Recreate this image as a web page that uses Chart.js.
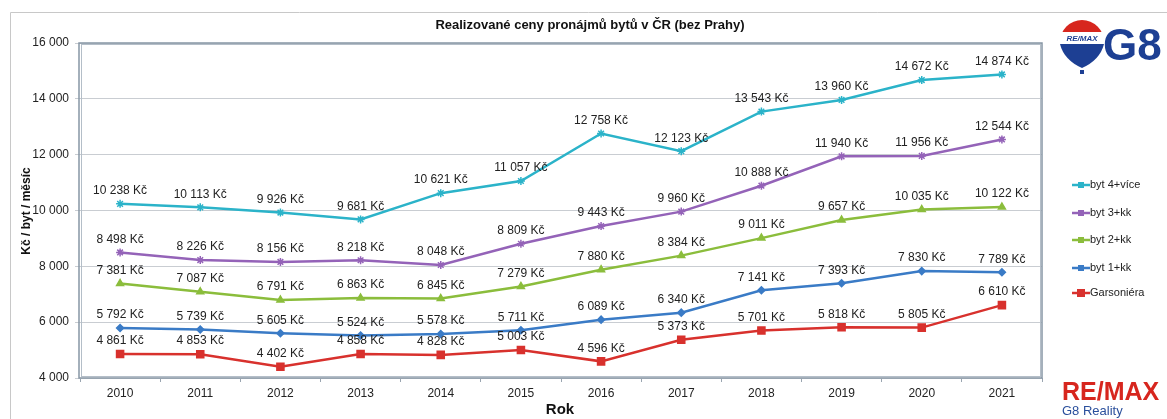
<!DOCTYPE html>
<html>
<head>
<meta charset="utf-8">
<script src="https://cdn.jsdelivr.net/npm/chart.js@4/dist/chart.umd.min.js"></script>
<style>
  html, body { margin: 0; padding: 0; background: #fff; }
  #wrap { width: 1167px; height: 419px; position: relative; }
</style>
</head>
<body>
<div id="wrap"><canvas id="rentChart" width="1167" height="419"></canvas></div>
<script>
// data
const years = ['2010', '2011', '2012', '2013', '2014', '2015', '2016', '2017', '2018', '2019', '2020', '2021'];
const byt4 = [10238, 10113, 9926, 9681, 10621, 11057, 12758, 12123, 13543, 13960, 14672, 14874];
const byt3 = [8498, 8226, 8156, 8218, 8048, 8809, 9443, 9960, 10888, 11940, 11956, 12544];
const byt2 = [7381, 7087, 6791, 6863, 6845, 7279, 7880, 8384, 9011, 9657, 10035, 10122];
const byt1 = [5792, 5739, 5605, 5524, 5578, 5711, 6089, 6340, 7141, 7393, 7830, 7789];
const garsoniera = [4861, 4853, 4402, 4858, 4828, 5003, 4596, 5373, 5701, 5818, 5805, 6610];
const seriesNames = ['byt 4+více', 'byt 3+kk', 'byt 2+kk', 'byt 1+kk', 'Garsoniéra'];

const FONT = '"Liberation Sans", Arial, sans-serif';

function thousands(v) {
    return String(Math.round(v)).replace(/\B(?=(\d{3})+(?!\d))/g, ' ');
}

function makeSet(label, values, color, style, radius) {
    return {
        label: label,
        data: values,
        borderColor: color,
        backgroundColor: color,
        borderWidth: 2.5,
        pointStyle: style,
        pointRadius: radius,
        pointBorderWidth: 1.5,
        tension: 0,
        fill: false
    };
}

// labels, frame, titles, legend and logos
const decorations = {
    id: 'decorations',
    beforeDraw(chart) {
        const ctx = chart.ctx;
        ctx.save();
        ctx.strokeStyle = '#c8c8c8';
        ctx.lineWidth = 1;
        ctx.beginPath();
        ctx.moveTo(10.5, 419);
        ctx.lineTo(10.5, 12.5);
        ctx.lineTo(1167, 12.5);
        ctx.stroke();
        ctx.restore();
    },
    afterDraw(chart) {
        const ctx = chart.ctx;
        const area = chart.chartArea;
        ctx.save();

        // plot border (double line)
        ctx.strokeStyle = '#8796a5';
        ctx.lineWidth = 1.5;
        ctx.strokeRect(area.left - 1, area.top, area.right - area.left + 1, area.bottom - area.top);
        ctx.strokeStyle = '#b4bec8';
        ctx.lineWidth = 1;
        ctx.strokeRect(area.left + 1.5, area.top + 1.5, area.right - area.left - 3, area.bottom - area.top - 3);

        // value labels
        ctx.font = '12px ' + FONT;
        ctx.fillStyle = '#222';
        ctx.textAlign = 'center';
        ctx.textBaseline = 'middle';
        chart.data.datasets.forEach((ds, i) => {
            chart.getDatasetMeta(i).data.forEach((pt, j) => {
                ctx.fillText(thousands(ds.data[j]) + ' Kč', pt.x, pt.y - 13);
            });
        });

        // title
        ctx.font = 'bold 13px ' + FONT;
        ctx.fillStyle = '#111';
        ctx.fillText('Realizované ceny pronájmů bytů v ČR (bez Prahy)', 590, 25);

        // axis titles
        ctx.font = 'bold 15px ' + FONT;
        ctx.fillText('Rok', 560, 410);
        ctx.save();
        ctx.translate(27, 211);
        ctx.rotate(-Math.PI / 2);
        ctx.font = 'bold 12px ' + FONT;
        ctx.fillText('Kč / byt / měsíc', 0, 0);
        ctx.restore();

        // legend
        const legendY = [185, 213, 240, 268, 293];
        ctx.font = '11px ' + FONT;
        ctx.textAlign = 'left';
        chart.data.datasets.forEach((ds, i) => {
            const y = legendY[i];
            ctx.strokeStyle = ds.borderColor;
            ctx.lineWidth = 2.5;
            ctx.beginPath();
            ctx.moveTo(1072, y);
            ctx.lineTo(1090, y);
            ctx.stroke();
            ctx.fillStyle = ds.borderColor;
            const r = ds.pointStyle === 'rect' ? 4 : 3;
            ctx.fillRect(1081 - r, y - r, r * 2, r * 2);
            ctx.fillStyle = '#222';
            ctx.fillText(seriesNames[i], 1090, y);
        });

        // balloon logo
        const bx = 1082;
        ctx.fillStyle = '#d7261e';
        ctx.beginPath();
        ctx.arc(bx, 42, 22, Math.PI, 0);
        ctx.fill();
        ctx.fillStyle = '#fff';
        ctx.fillRect(bx - 22, 32, 44, 12);
        ctx.fillStyle = '#1d3f93';
        ctx.beginPath();
        ctx.moveTo(bx - 22, 44);
        ctx.quadraticCurveTo(bx - 18, 60, bx, 68);
        ctx.quadraticCurveTo(bx + 18, 60, bx + 22, 44);
        ctx.closePath();
        ctx.fill();
        ctx.fillRect(bx - 2, 70, 4, 4);
        ctx.font = 'bold italic 8px ' + FONT;
        ctx.textAlign = 'center';
        ctx.fillText('RE/MAX', bx, 39);
        ctx.font = 'bold 44px ' + FONT;
        ctx.textAlign = 'left';
        ctx.fillText('G8', 1103, 48);

        // bottom brand
        ctx.fillStyle = '#d7261e';
        ctx.font = 'bold 25px ' + FONT;
        ctx.fillText('RE/MAX', 1062, 393);
        ctx.fillStyle = '#2a4f9c';
        ctx.font = '13px ' + FONT;
        ctx.fillText('G8 Reality', 1062, 411);

        ctx.restore();
    }
};

const config = {
    type: 'line',
    data: {
        labels: years,
        datasets: [
            makeSet('byt 4+více', byt4, '#2bb3c9', 'star', 4),
            makeSet('byt 3+kk', byt3, '#9463b8', 'star', 4),
            makeSet('byt 2+kk', byt2, '#8bbd3c', 'triangle', 4),
            makeSet('byt 1+kk', byt1, '#3a7bc6', 'rectRot', 3.5),
            makeSet('Garsoniéra', garsoniera, '#d8312d', 'rect', 5)
        ]
    },
    options: {
        responsive: false,
        animation: false,
        layout: { padding: { left: 0, top: 43, right: 125, bottom: 0 } },
        scales: {
            x: {
                offset: true,
                afterFit: (scale) => { scale.height = 41; },
                grid: { drawOnChartArea: false, offset: true, tickLength: 4, color: '#9aa5b0' },
                border: { display: false },
                ticks: { color: '#222', font: { family: FONT, size: 12 }, padding: 4, maxRotation: 0 }
            },
            y: {
                min: 4000,
                max: 16000,
                afterFit: (scale) => { scale.width = 80; },
                grid: { color: '#c9cdd2', tickLength: 5 },
                border: { display: false },
                ticks: {
                    stepSize: 2000,
                    color: '#222',
                    padding: 6,
                    font: { family: FONT, size: 12 },
                    callback: (v) => thousands(v)
                }
            }
        },
        plugins: {
            legend: { display: false },
            title: { display: false },
            tooltip: { enabled: false }
        }
    },
    plugins: [decorations]
};

new Chart(document.getElementById('rentChart'), config);
</script>
</body>
</html>
